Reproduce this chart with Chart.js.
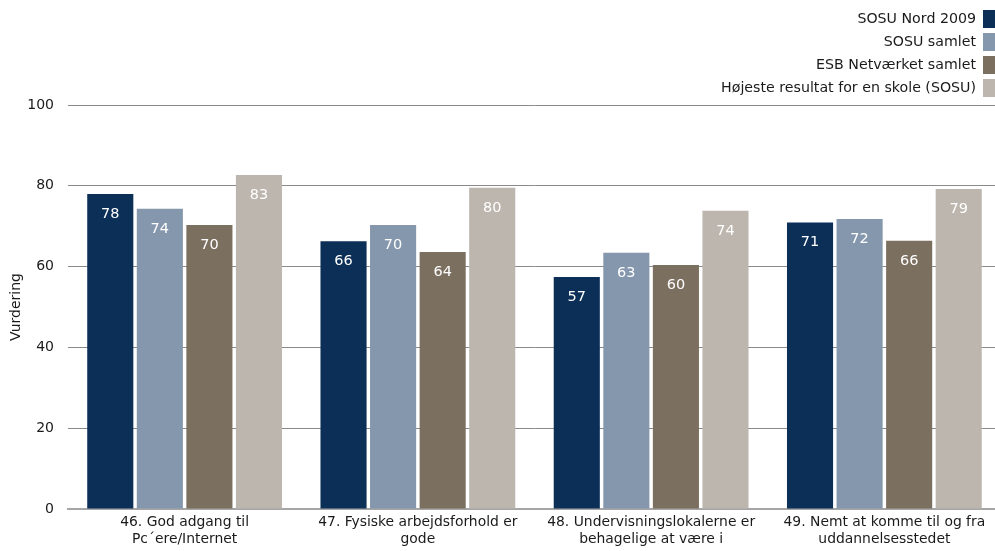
<!DOCTYPE html>
<html>
<head>
<meta charset="utf-8">
<script src="https://cdn.jsdelivr.net/npm/chart.js@4"></script>
<style>
  html, body { margin: 0; padding: 0; background: #fff; overflow: hidden; }
</style>
</head>
<body>
<canvas id="myChart" width="1001" height="551"></canvas>
<script>
var labels = [
    ['46. God adgang til', 'Pc\u00b4ere/Internet'],
    ['47. Fysiske arbejdsforhold er', 'gode'],
    ['48. Undervisningslokalerne er', 'behagelige at v\u00e6re i'],
    ['49. Nemt at komme til og fra', 'uddannelsesstedet']
];
var sosuNord = [78.0, 66.3, 57.4, 70.9];
var sosuSamlet = [74.3, 70.3, 63.4, 71.8];
var esbSamlet = [70.3, 63.6, 60.4, 66.4];
var hoejeste = [82.7, 79.5, 73.8, 79.2];
var yTicks = [0, 20, 40, 60, 80, 100];

var FONT = 'DejaVu Sans';

// values printed inside the top of each bar
var barLabels = {
    id: 'barLabels',
    afterDatasetsDraw: function(chart) {
        var ctx = chart.ctx;
        ctx.save();
        ctx.font = '14.5px "' + FONT + '"';
        ctx.fillStyle = '#ffffff';
        ctx.textAlign = 'center';
        ctx.textBaseline = 'middle';
        chart.data.datasets.forEach(function(ds, i) {
            chart.getDatasetMeta(i).data.forEach(function(bar, j) {
                ctx.fillText(Math.round(ds.data[j]), bar.x, bar.y + 20);
            });
        });
        ctx.restore();
    }
};

// legend: text right aligned, colour box on the right
var rightLegend = {
    id: 'rightLegend',
    afterDraw: function(chart) {
        var ctx = chart.ctx;
        ctx.save();
        ctx.font = '14.2px "' + FONT + '"';
        ctx.textAlign = 'right';
        ctx.textBaseline = 'middle';
        chart.data.datasets.forEach(function(ds, i) {
            var y = 19 + i * 23;
            ctx.fillStyle = ds.backgroundColor;
            ctx.fillRect(983, y - 9, 12, 18);
            ctx.fillStyle = '#1a1a1a';
            ctx.fillText(ds.label, 976, y);
        });
        ctx.restore();
    }
};

var ctx = document.getElementById('myChart').getContext('2d');
var chart = new Chart(ctx, {
    type: 'bar',
    data: {
        labels: labels,
        datasets: [{
            label: 'SOSU Nord 2009',
            backgroundColor: '#0c2f57',
            data: sosuNord
        },
        {
            label: 'SOSU samlet',
            backgroundColor: '#8597ac',
            data: sosuSamlet
        },
        {
            label: 'ESB Netv\u00e6rket samlet',
            backgroundColor: '#7b6f5f',
            data: esbSamlet
        },
        {
            label: 'H\u00f8jeste resultat for en skole (SOSU)',
            backgroundColor: '#bdb6ae',
            data: hoejeste
        }]
    },
    plugins: [barLabels, rightLegend],
    options: {
        responsive: false,
        animation: false,
        layout: { padding: { top: 105, right: 0, left: 0, bottom: 0 } },
        categoryPercentage: 0.85,
        barPercentage: 0.93,
        plugins: {
            legend: { display: false },
            tooltip: { enabled: false }
        },
        scales: {
            x: {
                grid: { display: false, drawTicks: false },
                border: { display: true, color: '#a6a6a6', width: 2 },
                ticks: {
                    color: '#1a1a1a',
                    font: { family: FONT, size: 13.9 },
                    padding: 5,
                    maxRotation: 0,
                    autoSkip: false
                },
                afterFit: function(s) { s.height = 42; }
            },
            y: {
                min: 0,
                max: 100,
                afterBuildTicks: function(s) {
                    s.ticks = yTicks.map(function(v) { return { value: v }; });
                },
                grid: { color: '#8a8a8a', drawTicks: false },
                border: { display: false },
                ticks: {
                    color: '#1a1a1a',
                    font: { family: FONT, size: 14 },
                    padding: 14
                },
                title: {
                    display: true,
                    text: 'Vurdering',
                    color: '#1a1a1a',
                    font: { family: FONT, size: 14 },
                    padding: { top: 8, bottom: 0 }
                },
                afterFit: function(s) { s.width = 68; }
            }
        }
    }
});
</script>
</body>
</html>
